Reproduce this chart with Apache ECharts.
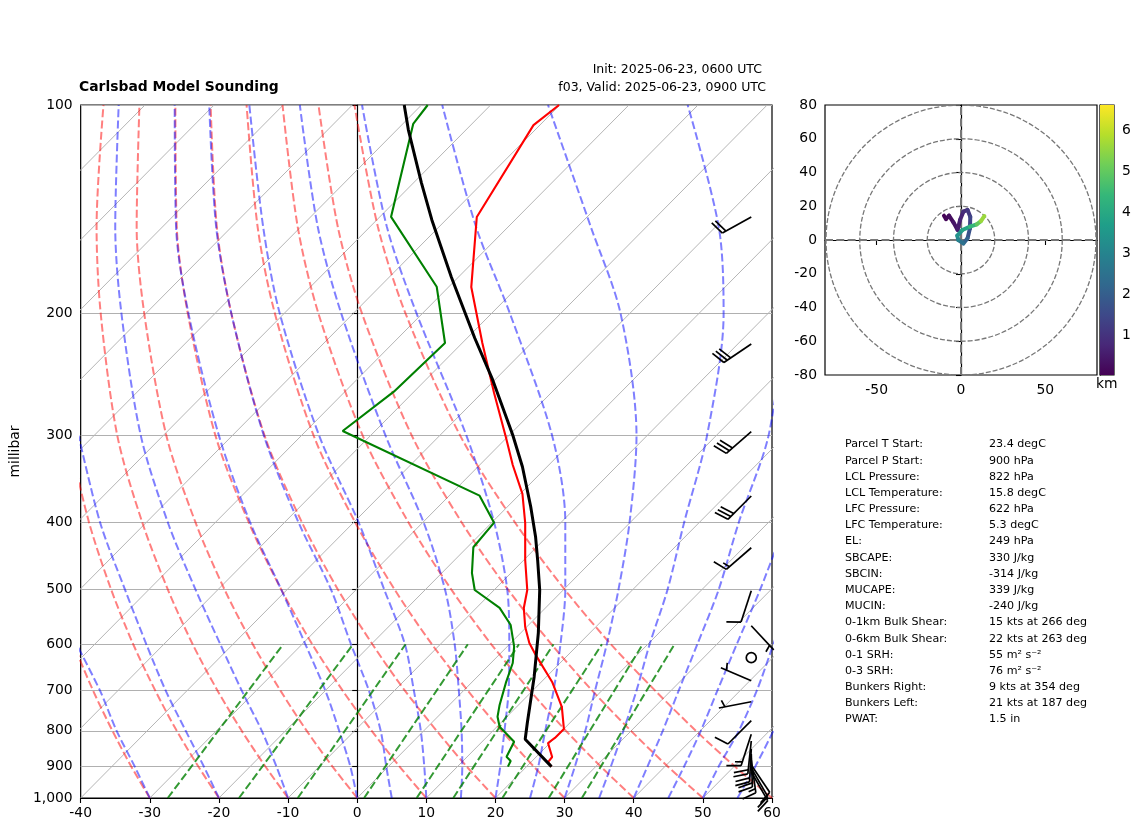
<!DOCTYPE html>
<html lang="en">
<head>
    <meta charset="UTF-8">
    <title>Carlsbad Model Sounding</title>
    <script src="https://cdn.jsdelivr.net/npm/echarts@6/dist/echarts.min.js"></script>
    <style>
        html, body { margin: 0; padding: 0; background: #fff; }
        #main { width: 1142px; height: 832px; }
    </style>
</head>
<body>
<div id="main"></div>
<script type="text/javascript">
    // pressure labels on the left axis
    var pressureTicks = [100, 200, 300, 400, 500, 600, 700, 800, 900, 1000];

    // temperature trace, x = value on the bottom axis at that pressure
    var tempP = [100, 106.9, 145.1, 183.1, 220.5, 260.3, 301.4, 330.7, 364.1, 401, 453.5, 501, 531.8, 566.6, 597.4, 623.7, 680, 739, 795, 819, 833, 872.6, 887.4, 901];
    var tempX = [29.2, 25.5, 17.3, 16.5, 18.1, 19.8, 21.5, 22.5, 23.9, 24.3, 24.3, 24.6, 24.1, 24.3, 24.9, 25.9, 28.2, 29.6, 29.9, 28.6, 27.6, 28.2, 27.6, 28.1];

    // dewpoint trace
    var dewP = [100, 106.5, 145, 182.9, 220.5, 259.2, 295.4, 366.2, 400.6, 434.7, 453.5, 473.6, 501, 531.8, 562.9, 604.9, 638.6, 682.3, 734, 763.2, 789.1, 829.5, 871.8, 884.3, 901];
    var dewX = [10.2, 8.1, 4.9, 11.5, 12.7, 5.3, -2.1, 17.7, 19.8, 16.8, 16.7, 16.6, 17, 20.6, 22.2, 22.7, 22.5, 21.5, 20.6, 20.3, 20.6, 22.7, 21.6, 22.2, 21.8];

    // parcel path
    var parcelP = [100, 108.6, 129.6, 146.5, 176.9, 216.9, 249.3, 299.4, 332.6, 380, 419.7, 453.5, 501, 578, 668.3, 780, 822.8, 901];
    var parcelX = [6.8, 7.4, 9.3, 10.8, 13.6, 17, 19.6, 22.5, 23.9, 25.1, 25.8, 26.1, 26.4, 26.2, 25.6, 24.6, 24.3, 28.1];

    // background lines
    var isotherms = [-130, -120, -110, -100, -90, -80, -70, -60, -50, -40, -30, -20, -10, 0, 10, 20, 30, 40, 50, 60];
    var isothermRise = 99.3;

    var adiabatLevels = [1000, 900, 800, 700, 600, 500, 400, 300, 200, 150, 100];
    var dryAdiabats = [
        [-30, -32.7, -35.4, -38.2, -41, -43.8],
        [-20, -23, -26.1, -29.2, -32.4, -35.6, -38.8, -41.8],
        [-10, -13.3, -16.7, -20.2, -23.8, -27.4, -31.1, -34.7, -37.1, -37.7, -36.7],
        [0, -3.6, -7.3, -11.1, -15.1, -19.2, -23.4, -27.6, -30.8, -31.9, -31.5],
        [10, 6.1, 2.1, -2.1, -6.5, -11, -15.7, -20.5, -24.5, -26.1, -26.3],
        [20, 15.8, 11.5, 6.9, 2.2, -2.8, -8, -13.4, -18.2, -20.3, -21.2],
        [30, 25.5, 20.9, 16, 10.8, 5.4, -0.3, -6.3, -11.9, -14.4, -16],
        [40, 35.2, 30.2, 25, 19.4, 13.6, 7.4, 0.8, -5.6, -8.6, -10.8],
        [50, 44.9, 39.6, 34, 28.1, 21.8, 15.1, 7.9, 0.7, -2.8, -5.6],
        [60, 54.6, 49, 43.1, 36.7, 30, 22.8, 14.9, 7, 3, -0.4]
    ];
    var moistAdiabats = [
        [-30, -32.2, -34.8, -37.2, -40.6],
        [-20, -22.2, -24.8, -27.7, -30.5, -33.6, -37.2, -40.3],
        [-10, -11.7, -13.8, -16.7, -19.8, -23.4, -27.4, -31.3, -34.1, -35, -34.5],
        [0, -1, -2.6, -4.6, -7.5, -11, -15.5, -20, -24.4, -26.2, -26.4],
        [5, 4.2, 3.4, 1.7, -0.9, -3.8, -8.5, -13.5, -18.2, -20.4, -21.4],
        [10, 9.7, 9.2, 8.2, 6.9, 3.9, 0.2, -5.5, -11.2, -13.6, -15.6],
        [15, 15.2, 15.1, 14.7, 14.1, 12.7, 9.6, 4.1, -2.3, -5.7, -8.3],
        [20, 20.7, 21.3, 21.9, 22, 21.7, 19.8, 15.8, 8.6, 4.3, 0.7],
        [25, 26.2, 27.2, 28.4, 29.4, 30.1, 30.1, 28.2, 22.1, 17.2, 12.3],
        [30, 31.5, 33, 34.4, 36.1, 37.8, 39.4, 40.4, 38.1, 33.8, 27.6],
        [35, 36.7, 38.5, 40.4, 42.3, 44.9, 47.3, 50.6, 53, 52.3, 47.8],
        [40, 42, 44.2, 46.5, 49.2, 52.3, 55.2, 59.5, 62],
        [45, 47.3, 49.7, 52.1, 54.9, 58.3, 62],
        [50, 52.3, 55.2, 57.8, 60.2, 63],
        [55, 57.6, 60.2, 63]
    ];
    var mixingBottom = [-27.4, -17.1, -8.6, 1, 8.6, 13.9, 21, 27.7, 32.5];
    var mixingTop = [-10.7, -0.6, 7, 16, 23.4, 28.4, 35.4, 41.3, 45.9];
    var mixingLevels = [1000, 600];

    // wind barbs: knots and direction the wind comes from
    var barbX = 57;
    var barbP = [145.1, 221.3, 296.1, 366.6, 435.4, 502.1, 564.2, 627.3, 677.2, 726.2, 773.4, 809.3, 827.5, 849.7, 863.9, 881.6, 896.1, 905.2, 917.3];
    var barbSpeed = [20, 30, 30, 30, 15, 10, 5, 0, 5, 5, 10, 15, 20, 20, 20, 15, 10, 10, 15];
    var barbDir = [241, 236, 229, 225, 229, 198, 137, 0, 293, 259, 225, 198, 186, 183, 178, 172, 146, 150, 150];

    // hodograph
    var hodoU = [-10.1, -8.9, -7.1, -4.5, -2, -0.6, 1.4, 3.9, 5.5, 5.3, 3.9, 1.4, -1.6, -2.2, 0.8, 5.3, 9.3, 11.8, 13.8];
    var hodoV = [14.4, 12.4, 14.4, 10.5, 5.9, 11.8, 16.8, 17.8, 13.8, 6.9, 1, -2, 0, 2.6, 5.9, 7.9, 9.3, 11.2, 14.2];
    var hodoH = [0.05, 0.15, 0.25, 0.4, 0.55, 0.7, 0.9, 1.1, 1.4, 1.7, 2.1, 2.5, 3, 3.4, 3.9, 4.4, 5, 5.6, 6.5];
    var ringRadii = [20, 40, 60, 80];
    var hodoXTicks = [-50, 0, 50];
    var colorbarTicks = [1, 2, 3, 4, 5, 6];
    var colorbarRange = [0.024, 6.61];

    // sounding parameters table
    var statNames = ['Parcel T Start:', 'Parcel P Start:', 'LCL Pressure:', 'LCL Temperature:', 'LFC Pressure:', 'LFC Temperature:', 'EL:', 'SBCAPE:', 'SBCIN:', 'MUCAPE:', 'MUCIN:', '0-1km Bulk Shear:', '0-6km Bulk Shear:', '0-1 SRH:', '0-3 SRH:', 'Bunkers Right:', 'Bunkers Left:', 'PWAT:'];
    var statValues = ['23.4 degC', '900 hPa', '822 hPa', '15.8 degC', '622 hPa', '5.3 degC', '249 hPa', '330 J/kg', '-314 J/kg', '339 J/kg', '-240 J/kg', '15 kts at 266 deg', '22 kts at 263 deg', '55 m\u00b2 s\u207b\u00b2', '76 m\u00b2 s\u207b\u00b2', '9 kts at 354 deg', '21 kts at 187 deg', '1.5 in'];

    var viridis = ['#440154', '#482878', '#3e4989', '#31688e', '#26828e', '#1f9e89', '#35b779', '#6ece58', '#b5de2b', '#fde725'];
    var FONT = '"DejaVu Sans", sans-serif';

    function zip(xs, ps) {
        var out = [];
        for (var i = 0; i < xs.length; i++) out.push([xs[i], ps[i]]);
        return out;
    }

    function viridisColor(h) {
        var t = (h - colorbarRange[0]) / (colorbarRange[1] - colorbarRange[0]);
        var pos = Math.max(0, Math.min(0.9999, t)) * (viridis.length - 1);
        var i = Math.floor(pos);
        return echarts.color.lerp(pos - i, [viridis[i], viridis[i + 1]]);
    }

    var series = [];

    function bgLine(data, color, width, dash, smooth) {
        series.push({
            type: 'line', xAxisIndex: 0, yAxisIndex: 0, data: data,
            showSymbol: false, silent: true, smooth: smooth || false,
            lineStyle: {color: color, width: width, type: dash || 'solid'}
        });
    }

    isotherms.forEach(function (t) {
        bgLine([[t, 1000], [t + isothermRise, 100]], '#b5b5b5', 1);
    });
    dryAdiabats.forEach(function (row) {
        bgLine(zip(row, adiabatLevels), 'rgba(255,0,0,0.5)', 2, [8, 3.3], 0.3);
    });
    moistAdiabats.forEach(function (row) {
        bgLine(zip(row, adiabatLevels), 'rgba(0,0,255,0.5)', 2, [8, 3.3], 0.3);
    });
    mixingBottom.forEach(function (x, i) {
        bgLine(zip([x, mixingTop[i]], mixingLevels), 'rgba(0,128,0,0.8)', 2, [8, 3.3]);
    });

    bgLine(zip(tempX, tempP), '#ff0000', 2.1);
    bgLine(zip(dewX, dewP), '#008000', 2.1);
    bgLine(zip(parcelX, parcelP), '#000000', 3);

    // wind barbs, tip sits on the data point like matplotlib pivot='tip'
    series.push({
        type: 'custom', xAxisIndex: 0, yAxisIndex: 0, silent: true, clip: false, z: 5,
        data: barbP.map(function (p, i) { return [barbX, p, barbSpeed[i], barbDir[i]]; }),
        encode: {x: 0, y: 1},
        renderItem: function (params, api) {
            var tip = api.coord([api.value(0), api.value(1)]);
            var speed = api.value(2);
            var style = {stroke: '#000', fill: 'none', lineWidth: 1.7};
            if (speed === 0) {
                return {type: 'circle', shape: {cx: tip[0], cy: tip[1], r: 5}, style: style};
            }
            var a = api.value(3) * Math.PI / 180;
            var ex = Math.sin(a), ey = -Math.cos(a);
            var nx = -ey, ny = ex;
            var len = 33, spacing = 4.1, h = 14, lean = 4.4;
            var kids = [{type: 'line', shape: {x1: tip[0], y1: tip[1], x2: tip[0] + ex * len, y2: tip[1] + ey * len}, style: style}];
            var full = Math.floor(speed / 10);
            var half = speed % 10 >= 5;
            var off = len;
            if (full === 0 && half) off -= 1.5 * spacing;
            function feather(scale) {
                var bx = tip[0] + ex * off, by = tip[1] + ey * off;
                kids.push({type: 'line', shape: {
                    x1: bx, y1: by,
                    x2: bx + (nx * h + ex * lean) * scale,
                    y2: by + (ny * h + ey * lean) * scale
                }, style: style});
                off -= spacing;
            }
            for (var i = 0; i < full; i++) feather(1);
            if (half) feather(0.5);
            return {type: 'group', children: kids};
        }
    });

    // hodograph rings and cross
    series.push({
        type: 'custom', xAxisIndex: 1, yAxisIndex: 1, silent: true, clip: true,
        data: ringRadii.map(function (r) { return [r, 0]; }),
        renderItem: function (params, api) {
            var c = api.coord([0, 0]);
            var r = api.size([api.value(0), 0])[0];
            return {type: 'circle', shape: {cx: c[0], cy: c[1], r: r},
                style: {stroke: '#777', fill: 'none', lineWidth: 1.3, lineDash: [5, 2]}};
        }
    });
    [[[-80.6, 0], [80.6, 0]], [[0, -80], [0, 80]]].forEach(function (d) {
        series.push({
            type: 'line', xAxisIndex: 1, yAxisIndex: 1, data: d, showSymbol: false, silent: true,
            lineStyle: {color: '#777', width: 2, type: [8, 3.3]}
        });
    });

    // hodograph trace, one segment per reading so colour can follow height
    series.push({
        type: 'custom', xAxisIndex: 1, yAxisIndex: 1, silent: true, z: 4,
        data: hodoU.slice(0, -1).map(function (u, i) { return [u, hodoV[i], hodoU[i + 1], hodoV[i + 1], hodoH[i]]; }),
        encode: {x: 0, y: 1},
        renderItem: function (params, api) {
            var a = api.coord([api.value(0), api.value(1)]);
            var b = api.coord([api.value(2), api.value(3)]);
            return {type: 'line', shape: {x1: a[0], y1: a[1], x2: b[0], y2: b[1]},
                style: {stroke: viridisColor(api.value(4)), lineWidth: 4, lineCap: 'round'}};
        }
    });

    // colour bar
    series.push({
        type: 'custom', xAxisIndex: 2, yAxisIndex: 2, silent: true,
        data: [[0, colorbarRange[0], colorbarRange[1]]],
        renderItem: function (params, api) {
            var lo = api.coord([0, api.value(1)]);
            var hi = api.coord([1, api.value(2)]);
            var stops = viridis.map(function (c, i) { return {offset: i / (viridis.length - 1), color: c}; });
            return {type: 'rect', shape: {x: lo[0], y: hi[1], width: hi[0] - lo[0], height: lo[1] - hi[1]},
                style: {fill: new echarts.graphic.LinearGradient(0, 1, 0, 0, stops)}};
        }
    });

    var axisText = {color: '#000', fontFamily: FONT, fontSize: 13.9};
    var axisBlack = {show: true, lineStyle: {color: '#000', width: 1.2}};
    var tickBlack = {show: true, length: 5, lineStyle: {color: '#000', width: 1.1}};

    var graphics = [
        {type: 'text', left: 79, top: 80, style: {text: 'Carlsbad Model Sounding', fontFamily: FONT, fontWeight: 'bold', fontSize: 13.9, fill: '#000'}},
        {type: 'text', right: 1142 - 762, top: 63, style: {text: 'Init: 2025-06-23, 0600 UTC', fontFamily: FONT, fontSize: 12.5, fill: '#000'}},
        {type: 'text', right: 1142 - 766, top: 81, style: {text: 'f03, Valid: 2025-06-23, 0900 UTC', fontFamily: FONT, fontSize: 12.5, fill: '#000'}},
        {type: 'text', left: 1096, top: 377, style: {text: 'km', fontFamily: FONT, fontSize: 13.9, fill: '#000'}}
    ];
    statNames.forEach(function (name, i) {
        var y = 439 + i * 16.18;
        graphics.push({type: 'text', left: 845, top: y, style: {text: name, fontFamily: FONT, fontSize: 11.1, fill: '#000'}});
        graphics.push({type: 'text', left: 989, top: y, style: {text: statValues[i], fontFamily: FONT, fontSize: 11.1, fill: '#000'}});
    });

    var myChart = echarts.init(document.getElementById('main'));
    myChart.setOption({
        animation: false,
        backgroundColor: '#fff',
        textStyle: {fontFamily: FONT},
        grid: [
            {left: 74, top: 105, width: 698, height: 693, show: true, borderColor: '#000', borderWidth: 1.2, backgroundColor: 'transparent'},
            {left: 825, top: 105, width: 272, height: 270, show: true, borderColor: '#000', borderWidth: 1.2, backgroundColor: 'transparent'},
            {left: 1100, top: 105, width: 14, height: 270, show: true, borderColor: '#000', borderWidth: 1.2, backgroundColor: 'transparent'}
        ],
        xAxis: [
            {type: 'value', gridIndex: 0, min: -40, max: 60, interval: 10, splitLine: {show: false},
                axisLine: axisBlack, axisTick: tickBlack, axisLabel: Object.assign({margin: 8}, axisText)},
            {type: 'value', gridIndex: 1, min: -80.6, max: 80.6, splitLine: {show: false}, axisLine: axisBlack,
                axisTick: Object.assign({customValues: hodoXTicks}, tickBlack),
                axisLabel: Object.assign({customValues: hodoXTicks, margin: 8}, axisText)},
            {type: 'value', gridIndex: 2, min: 0, max: 1, show: false}
        ],
        yAxis: [
            {type: 'log', logBase: 10, gridIndex: 0, inverse: true, min: 100, max: 1000,
                name: 'millibar', nameLocation: 'middle', nameGap: 51, nameTextStyle: axisText,
                axisLine: axisBlack,
                axisTick: Object.assign({customValues: pressureTicks}, tickBlack),
                axisLabel: Object.assign({customValues: pressureTicks, margin: 8}, axisText),
                splitLine: {show: true, lineStyle: {color: '#b0b0b0', width: 1.2}},
                minorTick: {show: false}, minorSplitLine: {show: false}},
            {type: 'value', gridIndex: 1, min: -80, max: 80, interval: 20, splitLine: {show: false},
                axisLine: axisBlack, axisTick: tickBlack, axisLabel: Object.assign({margin: 8}, axisText)},
            {type: 'value', gridIndex: 2, position: 'right', min: colorbarRange[0], max: colorbarRange[1], splitLine: {show: false},
                axisLine: axisBlack,
                axisTick: Object.assign({customValues: colorbarTicks}, tickBlack),
                axisLabel: Object.assign({customValues: colorbarTicks, margin: 8}, axisText)}
        ],
        graphic: graphics,
        series: series
    });
</script>
</body>
</html>
